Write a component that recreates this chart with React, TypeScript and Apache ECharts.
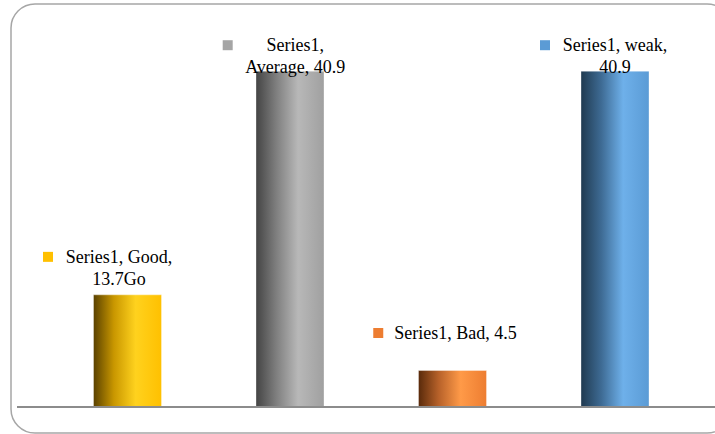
import React, { useEffect, useRef } from "react";
import * as echarts from "echarts";

const seriesName = "Series1";
const categories = ["Good", "Average", "Bad", "weak"];
const values = [13.7, 40.9, 4.5, 40.9];
const valueLabels = ["13.7Go", "40.9", "4.5", "40.9"];
const baseColors = ["#FFC000", "#A5A5A5", "#ED7D31", "#5B9BD5"];
const gradientStops = [
  ["#5a4100", "#c99700", "#ffd21e", "#ffc000"],
  ["#444444", "#7f7f7f", "#b8b8b8", "#a0a0a0"],
  ["#592a0b", "#b8622a", "#ff9a48", "#ed7d31"],
  ["#203a50", "#3e6b94", "#6eb0ea", "#5b9bd5"],
];

// label layout: how the text breaks into lines, box width, offset
const labelLayout = [
  { brk: "category", w: 108, gap: 12, dx: -19.5, dy: -4.5 },
  { brk: "series", w: 101, gap: 12, dx: -5.8, dy: 7.5 },
  { brk: "none", w: 0, gap: 11, dx: -7.5, dy: -26 },
  { brk: "category", w: 106, gap: 12, dx: -11, dy: 7.5 },
];

const FONT = "'Liberation Serif', 'Times New Roman', serif";

export default function App() {
  const ref = useRef<HTMLDivElement>(null);
  useEffect(() => {
    document.body.style.margin = "0";
    const chart = echarts.init(ref.current!, null, { renderer: "svg" });

    const data = values.map((v, i) => {
      const L = labelLayout[i];
      const cat = categories[i];
      const val = valueLabels[i];
      let text: string;
      if (L.brk === "category") {
        text = `{sq|}{g|}{t|${seriesName}, ${cat},}\n{sp|}{t|${val}}`;
      } else if (L.brk === "series") {
        text = `{sq|}{g|}{t|${seriesName},}\n{sp|}{t|${cat}, ${val}}`;
      } else {
        text = `{sq|}{g|}{t|${seriesName}, ${cat}, ${val}}`;
      }
      const tStyle: any = {
        fontSize: 18,
        fontFamily: FONT,
        color: "#000",
        lineHeight: 22,
        align: "center",
        verticalAlign: "middle",
      };
      if (L.w) tStyle.width = L.w;
      return {
        value: v,
        itemStyle: {
          color: new echarts.graphic.LinearGradient(0, 0, 1, 0, [
            { offset: 0, color: gradientStops[i][0] },
            { offset: 0.3, color: gradientStops[i][1] },
            { offset: 0.62, color: gradientStops[i][2] },
            { offset: 1, color: gradientStops[i][3] },
          ]),
          borderColor: "rgba(255,255,255,0.35)",
          borderWidth: 1,
        },
        label: {
          show: true,
          position: "top",
          distance: 0,
          offset: [L.dx, L.dy],
          formatter: () => text,
          rich: {
            sq: {
              width: 10,
              height: 10,
              backgroundColor: baseColors[i],
              verticalAlign: "middle",
            },
            g: { width: L.gap, height: 10 },
            sp: { width: 10 + L.gap, height: 10 },
            t: tStyle,
          },
        },
      };
    });

    chart.setOption({
      animation: false,
      grid: { left: 46.25, right: 18.75, top: 37, bottom: 27 },
      xAxis: {
        type: "category",
        data: categories,
        axisLine: { show: false },
        axisTick: { show: false },
        axisLabel: { show: false },
        splitLine: { show: false },
      },
      yAxis: {
        type: "value",
        min: 0,
        max: 45,
        show: false,
        splitLine: { show: false },
      },
      series: [
        {
          name: seriesName,
          type: "bar",
          barWidth: 69,
          data,
          z: 2,
        },
      ],
      graphic: [
        {
          type: "rect",
          z: 0,
          shape: { x: 11, y: 4, width: 720, height: 429, r: 24 },
          style: { fill: "none", stroke: "#a6a6a6", lineWidth: 1.5 },
        },
        {
          type: "line",
          z: 10,
          shape: { x1: 17, y1: 407, x2: 715, y2: 407 },
          style: { stroke: "#8c8c8c", lineWidth: 2 },
        },
      ],
    });
    return () => chart.dispose();
  }, []);
  return <div ref={ref} style={{ width: 715, height: 434 }} />;
}
